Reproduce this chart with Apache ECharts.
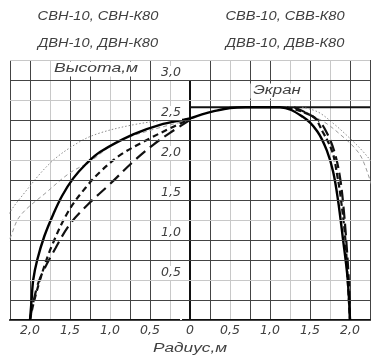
<!DOCTYPE html>
<html><head><meta charset="utf-8">
<script src="https://cdn.jsdelivr.net/npm/echarts@6/dist/echarts.min.js"></script>
<style>html,body{margin:0;padding:0;background:#fff}#c{width:372px;height:358px}</style>
</head><body><div id="c"></div>
<script>
// ---- tick labels ----
const xTickValues = [-2, -1.5, -1, -0.5, 0, 0.5, 1, 1.5, 2];
const xTickLabels = ['2,0', '1,5', '1,0', '0,5', '0', '0,5', '1,0', '1,5', '2,0'];
const yTickValues = [0.5, 1, 1.5, 2, 2.5, 3];
const yTickLabels = ['0,5', '1,0', '1,5', '2,0', '2,5', '3,0'];
const headerTexts = ['СВН-10, СВН-К80', 'ДВН-10, ДВН-К80', 'СВВ-10, СВВ-К80', 'ДВВ-10, ДВВ-К80'];
const xName = 'Радиус,м';
const yName = 'Высота,м';
const screenName = 'Экран';

// ---- curves: [radius (left negative), height] ----
const solidCurve = [[-2.0,0],[-1.98,0.25],[-1.96,0.5],[-1.91,0.75],[-1.82,1.05],[-1.71,1.32],[-1.6,1.55],[-1.46,1.77],[-1.3,1.95],[-1.125,2.1],[-0.71,2.32],[-0.375,2.44],[0,2.52],
  [0.15,2.57],[0.3,2.61],[0.5,2.65],[0.7,2.66],[1.125,2.66],[1.41,2.54],[1.59,2.36],[1.71,2.12],[1.79,1.85],[1.85,1.5],[1.91,1.03],[1.97,0.52],[2.0,0]];
const leftDash = [[-2.0,0],[-1.96,0.19],[-1.86,0.55],[-1.73,0.92],[-1.52,1.36],[-1.3,1.66],[-1.125,1.85],[-0.875,2.06],[-0.54,2.25],[-0.2,2.42],[0,2.51]];
const leftLongDash = [[-2.0,0],[-1.96,0.22],[-1.875,0.52],[-1.68,0.9],[-1.5,1.2],[-1.27,1.45],[-1.0,1.7],[-0.71,1.98],[-0.46,2.19],[-0.25,2.34],[0,2.5]];
const leftThinDot = [[-2.4,1.1],[-2.25,1.35],[-2.125,1.52],[-1.75,1.96],[-1.41,2.21],[-1.15,2.33],[-0.71,2.44],[-0.29,2.5],[0,2.52]];
const leftThinDash = [[-2.4,0.7],[-2.25,1.02],[-2.125,1.3],[-1.79,1.6],[-1.5,1.84],[-1.25,1.98],[-0.92,2.22],[-0.5,2.37],[0,2.5]];
const rightDash = [[1.21,2.66],[1.54,2.54],[1.66,2.35],[1.78,2.1],[1.84,1.81],[1.88,1.56],[1.94,1.03],[1.97,0.52],[2.0,0]];
const rightLongDash = [[1.3,2.66],[1.6,2.5],[1.73,2.3],[1.82,2.05],[1.88,1.75],[1.92,1.4],[1.96,0.9],[1.99,0.4],[2.0,0]];
const rightThinDot = [[1.4,2.66],[1.6,2.6],[1.8,2.45],[2.0,2.27],[2.15,2.12],[2.28,1.96],[2.4,1.75]];
const rightThinDash = [[1.45,2.6],[1.7,2.46],[1.9,2.3],[2.05,2.16],[2.15,2.02],[2.28,1.66],[2.35,1.45]];
const screenLine = [[0,2.66],[2.25,2.66]];
const yAxisSegment = [[0,0],[0,3.0]];

const D = '#444444', L = '#c8c8c8', T = 'rgba(0,0,0,0)';
const xGridColors = [D,D,L,D,D,L,D,D,L,T,D,L,D,D,L,D,L,D,D];
const yGridColors = [D,D,L,D,D,L,D,D,L,D,D,L,D,L];

const fmt = (vals, labs) => v => { const i = vals.findIndex(t => Math.abs(t - v) < 1e-6); return i < 0 ? '' : labs[i]; };
const labelFont = { fontFamily: 'DejaVu Sans', fontStyle: 'italic', fontSize: 12.5, color: '#404040' };

function line(data, color, width, type, z) {
  return { type: 'line', data, showSymbol: false, symbol: 'none', smooth: 0.35, clip: false, z: z || 3,
    lineStyle: { color, width, type }, silent: true, animation: false };
}

const chart = echarts.init(document.getElementById('c'), null, { renderer: 'canvas' });
chart.setOption({
  animation: false,
  backgroundColor: '#fff',
  grid: { left: 10, right: 2, top: 60, bottom: 38, outerBoundsMode: 'none', containLabel: false },
  xAxis: {
    type: 'value', min: -2.25, max: 2.25, interval: 0.25,
    axisLine: { show: true, onZero: false, lineStyle: { color: '#111', width: 2 } },
    axisTick: { show: false },
    axisLabel: Object.assign({ margin: 4, formatter: fmt(xTickValues, xTickLabels), showMinLabel: true, showMaxLabel: true, hideOverlap: false }, labelFont),
    splitLine: { show: true, lineStyle: { color: xGridColors, width: 1 } }
  },
  yAxis: {
    type: 'value', min: 0, max: 3.25, interval: 0.25, position: 'left', offset: -180, z: 6,
    axisLine: { show: false, onZero: false },
    axisTick: { show: false },
    axisLabel: Object.assign({ show: true, inside: false, margin: 8, verticalAlign: 'bottom', formatter: fmt(yTickValues, yTickLabels), backgroundColor: '#fff', padding: [0, 1, 1, 1], showMinLabel: true, showMaxLabel: true, hideOverlap: false }, labelFont),
    splitLine: { show: true, lineStyle: { color: yGridColors, width: 1 } }
  },
  graphic: [
    { type: 'text', x: 98, y: 17, scaleX: 1.17, style: { text: headerTexts[0], font: 'italic 12.5px "Liberation Sans"', fill: '#404040', align: 'center', verticalAlign: 'middle' } },
    { type: 'text', x: 98, y: 44, scaleX: 1.17, style: { text: headerTexts[1], font: 'italic 12.5px "Liberation Sans"', fill: '#404040', align: 'center', verticalAlign: 'middle' } },
    { type: 'text', x: 285, y: 17, scaleX: 1.17, style: { text: headerTexts[2], font: 'italic 12.5px "Liberation Sans"', fill: '#404040', align: 'center', verticalAlign: 'middle' } },
    { type: 'text', x: 285, y: 44, scaleX: 1.17, style: { text: headerTexts[3], font: 'italic 12.5px "Liberation Sans"', fill: '#404040', align: 'center', verticalAlign: 'middle' } },
    { type: 'text', x: 96, y: 69, scaleX: 1.4, z: 10, style: { text: yName, font: 'italic 12.5px "Liberation Sans"', fill: '#404040', align: 'center', verticalAlign: 'middle', backgroundColor: '#fff', padding: [1, 2] } },
    { type: 'text', x: 277, y: 91, scaleX: 1.35, z: 10, style: { text: screenName, font: 'italic 12.5px "Liberation Sans"', fill: '#404040', align: 'center', verticalAlign: 'middle', backgroundColor: '#fff', padding: [1, 2] } },
    { type: 'text', x: 190, y: 349, scaleX: 1.38, style: { text: xName, font: 'italic 12.5px "Liberation Sans"', fill: '#404040', align: 'center', verticalAlign: 'middle' } }
  ],
  series: [
    line(yAxisSegment, '#111', 2, 'solid', 2),
    line(screenLine, '#111', 2, 'solid', 2),
    line(leftThinDot, '#8a8a8a', 1, [1.5, 2], 3),
    line(leftThinDash, '#9a9a9a', 1, [4, 3], 3),
    line(rightThinDot, '#8a8a8a', 1, [1.5, 2], 3),
    line(rightThinDash, '#9a9a9a', 1, [4, 3], 3),
    line(leftLongDash, '#111', 2.2, [12, 6], 4),
    line(leftDash, '#111', 2.2, [6, 4], 4),
    line(rightLongDash, '#111', 2.2, [12, 5], 4),
    line(rightDash, '#111', 2.2, [6, 3], 4),
    line(solidCurve, '#000', 2.4, 'solid', 5)
  ]
});
</script></body></html>
